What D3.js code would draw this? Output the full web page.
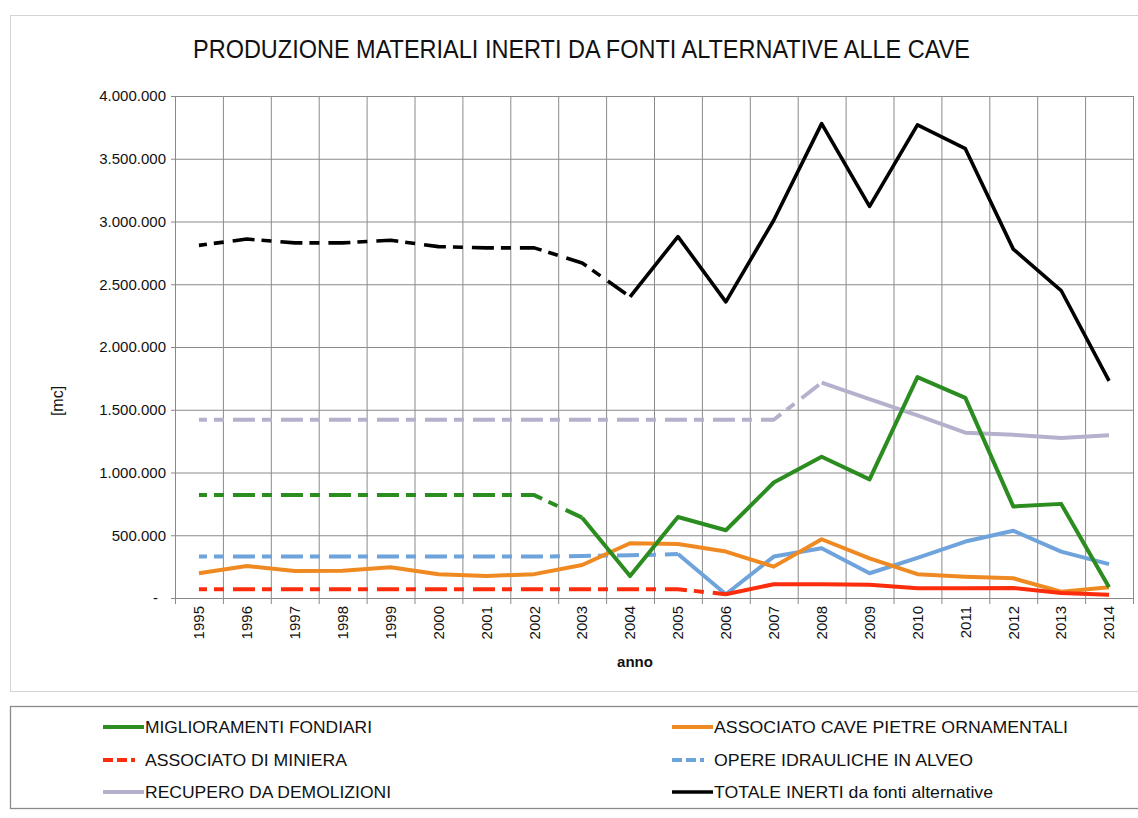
<!DOCTYPE html>
<html>
<head>
<meta charset="utf-8">
<script src="https://cdn.jsdelivr.net/npm/d3@7"></script>
<style>
  html, body { margin: 0; padding: 0; background: #ffffff; }
  svg { display: block; }
  text { font-family: "Liberation Sans", Arial, sans-serif; fill: #111; }
</style>
</head>
<body>
<svg id="chart" width="1138" height="818"></svg>
<script>
// Anni
const years = ["1995","1996","1997","1998","1999","2000","2001","2002","2003","2004",
               "2005","2006","2007","2008","2009","2010","2011","2012","2013","2014"];

// Produzione annua [mc] per fonte
const miglioramentiFondiari = [820000,820000,820000,820000,820000,820000,820000,820000,640000,175000,
                               645000,540000,920000,1125000,945000,1760000,1595000,730000,750000,85000];
const associatoCavePietre   = [197000,255000,215000,218000,245000,190000,175000,190000,263000,436000,
                               430000,370000,250000,468000,316000,190000,170000,157000,50000,85000];
const associatoMiniera      = [70000,70000,70000,70000,70000,70000,70000,70000,70000,70000,
                               70000,30000,110000,110000,105000,77000,77000,80000,40000,25000];
const opereIdrauliche       = [330000,330000,330000,330000,330000,330000,330000,330000,335000,340000,
                               350000,30000,330000,396000,197000,320000,450000,536000,370000,270000];
const recuperoDemolizioni   = [1420000,1420000,1420000,1420000,1420000,1420000,1420000,1420000,1420000,1420000,
                               1420000,1420000,1420000,1716000,1585000,1455000,1317000,1300000,1275000,1296000];
const totaleInerti          = [2810000,2860000,2830000,2830000,2850000,2800000,2790000,2790000,2670000,2400000,
                               2880000,2360000,3010000,3780000,3120000,3770000,3580000,2780000,2450000,1730000];

// Tick dell'asse Y
const yTicks = [0,500000,1000000,1500000,2000000,2500000,3000000,3500000,4000000];

// Serie: le annualità stimate (fino a "stimaFino") sono tratteggiate
const series = [
  { name: "RECUPERO DA DEMOLIZIONI", values: recuperoDemolizioni, color: "#b7b0cc", width: 4, stimaFino: 13 },
  { name: "OPERE IDRAULICHE IN ALVEO", values: opereIdrauliche, color: "#6fa3dc", width: 4, stimaFino: 10 },
  { name: "ASSOCIATO CAVE PIETRE ORNAMENTALI", values: associatoCavePietre, color: "#ef8a22", width: 4, stimaFino: -1 },
  { name: "ASSOCIATO DI MINIERA", values: associatoMiniera, color: "#fb2d0c", width: 4, stimaFino: 11 },
  { name: "MIGLIORAMENTI FONDIARI", values: miglioramentiFondiari, color: "#2b8c1f", width: 4, stimaFino: 8 },
  { name: "TOTALE INERTI da fonti alternative", values: totaleInerti, color: "#000000", width: 3.6, stimaFino: 9 }
];

const svg = d3.select("#chart");
const plot = { left: 175, right: 1133, top: 96, bottom: 598 };

const x = d3.scaleBand().domain(years).range([plot.left, plot.right]).paddingInner(0).paddingOuter(0);
const y = d3.scaleLinear().domain([0, 4000000]).range([plot.bottom, plot.top]);
const cx = d => x(d) + x.bandwidth() / 2;

const it = d3.formatLocale({ decimal: ",", thousands: ".", grouping: [3], currency: ["", " €"] });
const fmt = it.format(",.0f");

// cornice del grafico
svg.append("rect").attr("x", 10.5).attr("y", 15.5).attr("width", 1140).attr("height", 676)
  .attr("fill", "none").attr("stroke", "#d4d4d4").attr("stroke-width", 1);

// titolo
svg.append("text").attr("x", 193).attr("y", 58)
  .attr("font-size", 26).attr("textLength", 777).attr("lengthAdjust", "spacingAndGlyphs")
  .text("PRODUZIONE MATERIALI INERTI DA FONTI ALTERNATIVE ALLE CAVE");

// griglia orizzontale + asse Y
const yAxis = d3.axisLeft(y).tickValues(yTicks).tickSize(-(plot.right - plot.left)).tickSizeOuter(0)
  .tickPadding(9).tickFormat(d => d === 0 ? "-" : fmt(d));
const gy = svg.append("g").attr("transform", `translate(${plot.left},0)`).call(yAxis);
gy.select(".domain").attr("stroke", "#8a8a8a");
gy.selectAll(".tick line").attr("stroke", "#8a8a8a").attr("x1", -4);
gy.selectAll(".tick text").attr("font-size", 15).attr("fill", "#111")
  .attr("font-family", "\"Liberation Sans\", Arial, sans-serif");
gy.selectAll(".tick text").filter(d => d === 0).attr("dx", -8);

// griglia verticale sui confini delle categorie
const bounds = years.map(d => x(d)).concat([plot.right]);
svg.append("g").selectAll("line").data(bounds).join("line")
  .attr("x1", d => d + 0.5).attr("x2", d => d + 0.5)
  .attr("y1", plot.top).attr("y2", plot.bottom + 6)
  .attr("stroke", "#8a8a8a").attr("stroke-width", 1);

// asse X
const gx = svg.append("g").attr("transform", `translate(0,${plot.bottom})`)
  .call(d3.axisBottom(x).tickSize(0).tickPadding(0));
gx.select(".domain").attr("stroke", "#8a8a8a");
gx.selectAll(".tick text")
  .attr("font-size", 15).attr("fill", "#111")
  .attr("font-family", "\"Liberation Sans\", Arial, sans-serif")
  .attr("transform", "rotate(-90)")
  .attr("text-anchor", "end").attr("dy", "0.35em")
  .attr("x", -8).attr("y", 0);

// titoli assi
svg.append("text").attr("x", 635).attr("y", 667).attr("text-anchor", "middle")
  .attr("font-size", 15).attr("font-weight", "bold").text("anno");
svg.append("text").attr("transform", "translate(63,401) rotate(-90)").attr("text-anchor", "middle")
  .attr("font-size", 16).text("[mc]");

// linee
const dash = "22,7,10,9";
const line = d3.line().x(d => cx(d.year)).y(d => y(d.v));
const lines = svg.append("g");
series.forEach(s => {
  const pts = years.map((yr, i) => ({ year: yr, v: s.values[i] }));
  const k = s.stimaFino;
  if (k > 0) {
    lines.append("path").datum(pts.slice(0, k + 1)).attr("d", line)
      .attr("fill", "none").attr("stroke", s.color).attr("stroke-width", s.width)
      .attr("stroke-dasharray", dash).attr("stroke-dashoffset", 14)
      .attr("stroke-linejoin", "round");
  }
  lines.append("path").datum(pts.slice(Math.max(k, 0))).attr("d", line)
    .attr("fill", "none").attr("stroke", s.color).attr("stroke-width", s.width)
    .attr("stroke-linejoin", "round").attr("stroke-linecap", "butt");
});

// legenda
svg.append("rect").attr("x", 10.5).attr("y", 706.5).attr("width", 1140).attr("height", 102)
  .attr("fill", "#fff").attr("stroke", "#8a8a8a").attr("stroke-width", 1.3);

const legendItems = [
  { s: series[4], col: 0, row: 0, w: 227 },
  { s: series[2], col: 1, row: 0, w: 354 },
  { s: series[3], col: 0, row: 1, w: 202, dashed: true },
  { s: series[1], col: 1, row: 1, w: 259, dashed: true },
  { s: series[0], col: 0, row: 2, w: 246 },
  { s: series[5], col: 1, row: 2, w: 279 }
];
const colX = [103, 672];
const rowY = [727, 760, 792];
const lg = svg.append("g");
legendItems.forEach(it2 => {
  const x0 = colX[it2.col], y0 = rowY[it2.row];
  lg.append("line").attr("x1", x0).attr("x2", x0 + 41).attr("y1", y0).attr("y2", y0)
    .attr("stroke", it2.s.color).attr("stroke-width", it2.s.width)
    .attr("stroke-dasharray", it2.dashed ? "10,4,10,4,4,20" : null);
  lg.append("text").attr("x", x0 + 42).attr("y", y0).attr("dy", "0.36em")
    .attr("font-size", 17).attr("textLength", it2.w).attr("lengthAdjust", "spacingAndGlyphs")
    .text(it2.s.name);
});
</script>
</body>
</html>
